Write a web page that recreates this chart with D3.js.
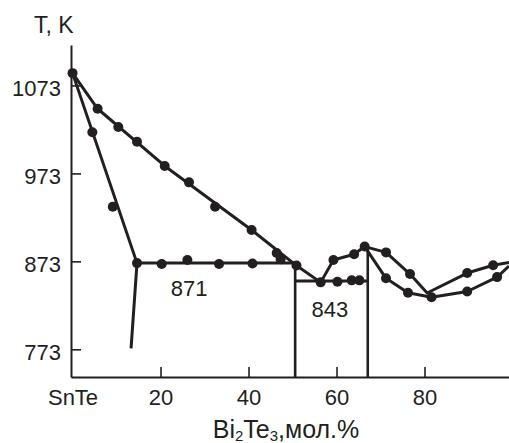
<!DOCTYPE html>
<html>
<head>
<meta charset="utf-8">
<script src="https://cdn.jsdelivr.net/npm/d3@7"></script>
<style>
  body { margin: 0; background: #fff; }
  svg text { font-family: "Liberation Sans", Arial, sans-serif; fill: #231f20; }
</style>
</head>
<body>
<div id="graphique"></div>
<script>
// Ticks
const xTicks = [0, 20, 40, 60, 80]
const yTicks = [773, 873, 973, 1073]

// Lignes (mol.% Bi2Te3, T en K)
const liquidusSnTe = [[0, 1087], [5.7, 1046.5], [20.95, 981.5], [40.7, 908.6], [50.9, 868.2], [56.4, 849.1]]
const solidusSnTe = [[0, 1087], [14.65, 871], [13.3, 774]]
const eutectic871 = [[14.65, 871], [50.9, 871]]
const eutectic843 = [[50.6, 850.6], [67.1, 850.6]]
const risingBranch = [[56.4, 849.1], [59.3, 874.5], [64.0, 881], [66.4, 889.8]]
const branchA = [[66.4, 889.8], [71.25, 883.2], [76.7, 858.6], [80.6, 837], [89.7, 859.7], [95.6, 868.6], [99.2, 871.6]]
const branchB = [[66.4, 889.8], [71.25, 853.7], [76.25, 837.3], [81.6, 832.1], [89.7, 838.7], [96.5, 855.1], [99.2, 867.7]]
const compounds = [[50.6, 868.2], [67.1, 889.8]]

// Points mesurés
const pointsLiquidus = [[0, 1087], [5.7, 1046.5], [10.4, 1025.7], [14.65, 1009], [20.95, 981.5], [26.47, 962.8],
  [32.4, 935.1], [40.7, 908.6], [46.4, 882.4], [50.9, 868.2], [56.4, 849.1]]
const pointsSolidus = [[4.5, 1019.7], [9.15, 935.1], [14.65, 871]]
const points871 = [[20.27, 870], [26.1, 874.5], [33.3, 870], [40.9, 870.5], [47.3, 875.3]]
const points843 = [[60.2, 849.8], [63.45, 851.4], [65.2, 851.4]]
const pointsRising = [[59.3, 874.5], [64.0, 881], [66.4, 889.8]]
const pointsA = [[71.25, 883.2], [76.7, 858.6], [89.7, 859.7], [95.6, 868.6]]
const pointsB = [[71.25, 853.7], [76.25, 837.3], [81.6, 832.1], [89.7, 838.7], [96.5, 855.1]]

const ink = "#231f20"
const width = 509, height = 443

let x = d3.scaleLinear().domain([-0.35, 100]).range([71, 512.5])
let y = d3.scaleLinear().domain([741.5, 1119]).range([377, 45])

let svg = d3.select("#graphique")
  .append("svg")
  .attr("width", width)
  .attr("height", height)

// Axe x
let gx = svg.append("g")
  .attr("transform", "translate(0," + y(741.5) + ")")
  .call(d3.axisBottom(x).tickValues(xTicks).tickSize(-10).tickSizeOuter(0).tickPadding(12)
    .tickFormat(d => d === 0 ? "SnTe" : d))
gx.select(".domain").attr("stroke", ink).attr("stroke-width", 2)
gx.selectAll(".tick line").attr("stroke", ink).attr("stroke-width", 1.6)
  .filter(d => d === 0).remove()
gx.selectAll(".tick text").attr("font-size", 22).attr("fill", ink)

// Axe y
let gy = svg.append("g")
  .attr("transform", "translate(" + x(-0.35) + ",0)")
  .call(d3.axisLeft(y).tickValues(yTicks).tickFormat(d3.format("d")).tickSize(-10).tickSizeOuter(0).tickPadding(10))
gy.select(".domain").attr("stroke", ink).attr("stroke-width", 2)
gy.selectAll(".tick line").attr("stroke", ink).attr("stroke-width", 1.6)
gy.selectAll(".tick text").attr("font-size", 22).attr("fill", ink).attr("dy", "0.45em")

// Titres
svg.append("text").attr("x", 34).attr("y", 33).attr("font-size", 23).text("T, K")

let title = svg.append("text").attr("x", 286).attr("y", 438).attr("font-size", 25)
  .attr("text-anchor", "middle")
title.append("tspan").text("Bi")
title.append("tspan").attr("font-size", 15).attr("dy", 3).text("2")
title.append("tspan").attr("dy", -3).text("Te")
title.append("tspan").attr("font-size", 15).attr("dy", 3).text("3")
title.append("tspan").attr("dy", -3).text(",мол.%")

// Lignes
let line = d3.line().x(d => x(d[0])).y(d => y(d[1]))
const allLines = [liquidusSnTe, solidusSnTe, eutectic871, eutectic843, risingBranch, branchA, branchB]
svg.append("g")
  .selectAll("path")
  .data(allLines)
  .join("path")
  .attr("d", line)
  .attr("fill", "none")
  .attr("stroke", ink)
  .attr("stroke-width", 3)
  .attr("stroke-linejoin", "round")

// Verticales des composés
svg.append("g")
  .selectAll("line")
  .data(compounds)
  .join("line")
  .attr("x1", d => x(d[0])).attr("x2", d => x(d[0]))
  .attr("y1", d => y(d[1])).attr("y2", y(741.5))
  .attr("stroke", ink)
  .attr("stroke-width", 2.6)

// Points
const allPoints = [].concat(pointsLiquidus, pointsSolidus, points871, points843, pointsRising, pointsA, pointsB)
svg.append("g")
  .selectAll("circle")
  .data(allPoints)
  .join("circle")
  .attr("cx", d => x(d[0]))
  .attr("cy", d => y(d[1]))
  .attr("r", 5)
  .attr("fill", ink)

// Températures eutectiques
svg.append("text").attr("x", x(26.5)).attr("y", y(833.5)).attr("font-size", 22)
  .attr("text-anchor", "middle").text("871")
svg.append("text").attr("x", x(58.5)).attr("y", y(810)).attr("font-size", 22)
  .attr("text-anchor", "middle").text("843")
</script>
</body>
</html>
